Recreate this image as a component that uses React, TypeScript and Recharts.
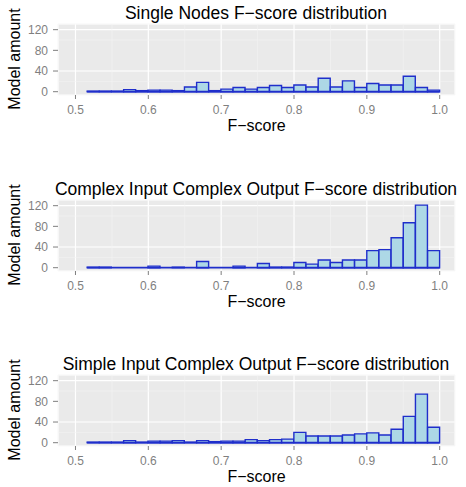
import React from 'react';
import { ComposedChart, Bar, XAxis, YAxis, CartesianGrid, ReferenceLine } from 'recharts';

// histogram bins (29 of them, between 0.516 and 1.0)
const binMids = [
  0.5243, 0.541, 0.5577, 0.5744, 0.5911, 0.6078, 0.6245, 0.6412, 0.6579, 0.6746,
  0.6912, 0.7079, 0.7246, 0.7413, 0.758, 0.7747, 0.7914, 0.8081, 0.8248, 0.8415,
  0.8581, 0.8748, 0.8915, 0.9082, 0.9249, 0.9416, 0.9583, 0.975, 0.9917,
];
const binRange = [0.516, 1.0];

const singleNodes = [
  1, 1, 1, 4, 2, 3, 3, 2, 9, 18, 2, 5, 8, 5, 8, 12, 8, 13, 9, 26, 9, 21, 8, 16, 13, 13, 30, 8, 3,
];
const complexComplex = [
  1, 1, 0, 0, 0, 3, 0, 1, 0, 12, 0, 0, 3, 0, 8, 1, 1, 10, 7, 15, 10, 15, 15, 33, 35, 58, 87, 121, 33,
];
const simpleComplex = [
  1, 1, 1, 4, 1, 3, 3, 4, 1, 4, 2, 3, 3, 6, 4, 6, 7, 20, 13, 13, 13, 15, 17, 19, 15, 26, 51, 94, 30,
];

const titles = [
  'Single Nodes F\u2212score distribution',
  'Complex Input Complex Output F\u2212score distribution',
  'Simple Input Complex Output F\u2212score distribution',
];

const xTicks = [0.5, 0.6, 0.7, 0.8, 0.9, 1.0];
const xMinor = [0.55, 0.65, 0.75, 0.85, 0.95];
const yTicks = [0, 40, 80, 120];
const yMinor = [20, 60, 100];

const FONT = '"Liberation Sans", Arial, Helvetica, sans-serif';
const FILL = '#ADD8E6';
const EDGE = '#1f2ecb';
const GREY = '#7f7f7f';

const X_DOMAIN: [number, number] = [0.476, 1.021];
const Y_DOMAIN: [number, number] = [-6.4, 131];

function Panel({ title, counts, top }: { title: string; counts: number[]; top: number }) {
  const data = binMids.map((x, i) => ({ x, n: counts[i] }));
  return (
    <div style={{ position: 'absolute', left: 0, top, width: 466, height: 140 }}>
      <div
        style={{
          position: 'absolute',
          left: 6,
          width: 500,
          top: 2,
          textAlign: 'center',
          fontSize: 17.5,
          lineHeight: '22px',
          whiteSpace: 'nowrap',
          color: '#000',
        }}
      >
        {title}
      </div>
      <div
        style={{
          position: 'absolute',
          left: 15,
          top: 59,
          transform: 'translate(-50%, -50%) rotate(-90deg)',
          fontSize: 16,
          whiteSpace: 'nowrap',
          color: '#000',
        }}
      >
        Model amount
      </div>
      <ComposedChart
        width={466}
        height={140}
        data={data}
        margin={{ top: 24, right: 11, left: 0, bottom: 0 }}
        barCategoryGap={0}
        barGap={0}
        style={{ position: 'absolute', left: 0, top: 0 }}
      >
        <CartesianGrid fill="#EAEAEA" stroke="#ffffff" strokeWidth={1.2} />
        <CartesianGrid xAxisId="minor" yAxisId="minor" stroke="#F4F4F4" strokeWidth={0.6} />
        <XAxis
          dataKey="x"
          type="number"
          domain={X_DOMAIN}
          ticks={xTicks}
          allowDataOverflow
          tickFormatter={(v: number) => v.toFixed(1)}
          axisLine={false}
          tickSize={4}
          tickMargin={6}
          tickLine={{ stroke: GREY }}
          tick={{ fill: GREY, fontSize: 12 }}
          height={45}
          label={{ value: 'F\u2212score', position: 'insideBottom', offset: 9, fill: '#000', fontSize: 16 }}
        />
        <XAxis xAxisId="minor" type="number" dataKey="x" domain={X_DOMAIN} ticks={xMinor} allowDataOverflow hide />
        <YAxis
          type="number"
          domain={Y_DOMAIN}
          ticks={yTicks}
          allowDataOverflow
          axisLine={false}
          tickSize={5}
          tickMargin={5}
          tickLine={{ stroke: GREY }}
          tick={{ fill: GREY, fontSize: 12 }}
          width={58}
        />
        <YAxis yAxisId="minor" type="number" domain={Y_DOMAIN} ticks={yMinor} allowDataOverflow hide />
        <Bar dataKey="n" fill={FILL} stroke={EDGE} strokeWidth={1.4} isAnimationActive={false} />
        <ReferenceLine
          segment={[
            { x: binRange[0], y: 0 },
            { x: binRange[1], y: 0 },
          ]}
          stroke={EDGE}
          strokeWidth={1.8}
        />
      </ComposedChart>
    </div>
  );
}

export default function App() {
  return (
    <div style={{ position: 'relative', width: 466, height: 487, fontFamily: FONT, background: '#fff' }}>
      <style>{`body{margin:0}`}</style>
      <Panel title={titles[0]} counts={singleNodes} top={0} />
      <Panel title={titles[1]} counts={complexComplex} top={176} />
      <Panel title={titles[2]} counts={simpleComplex} top={351} />
    </div>
  );
}
